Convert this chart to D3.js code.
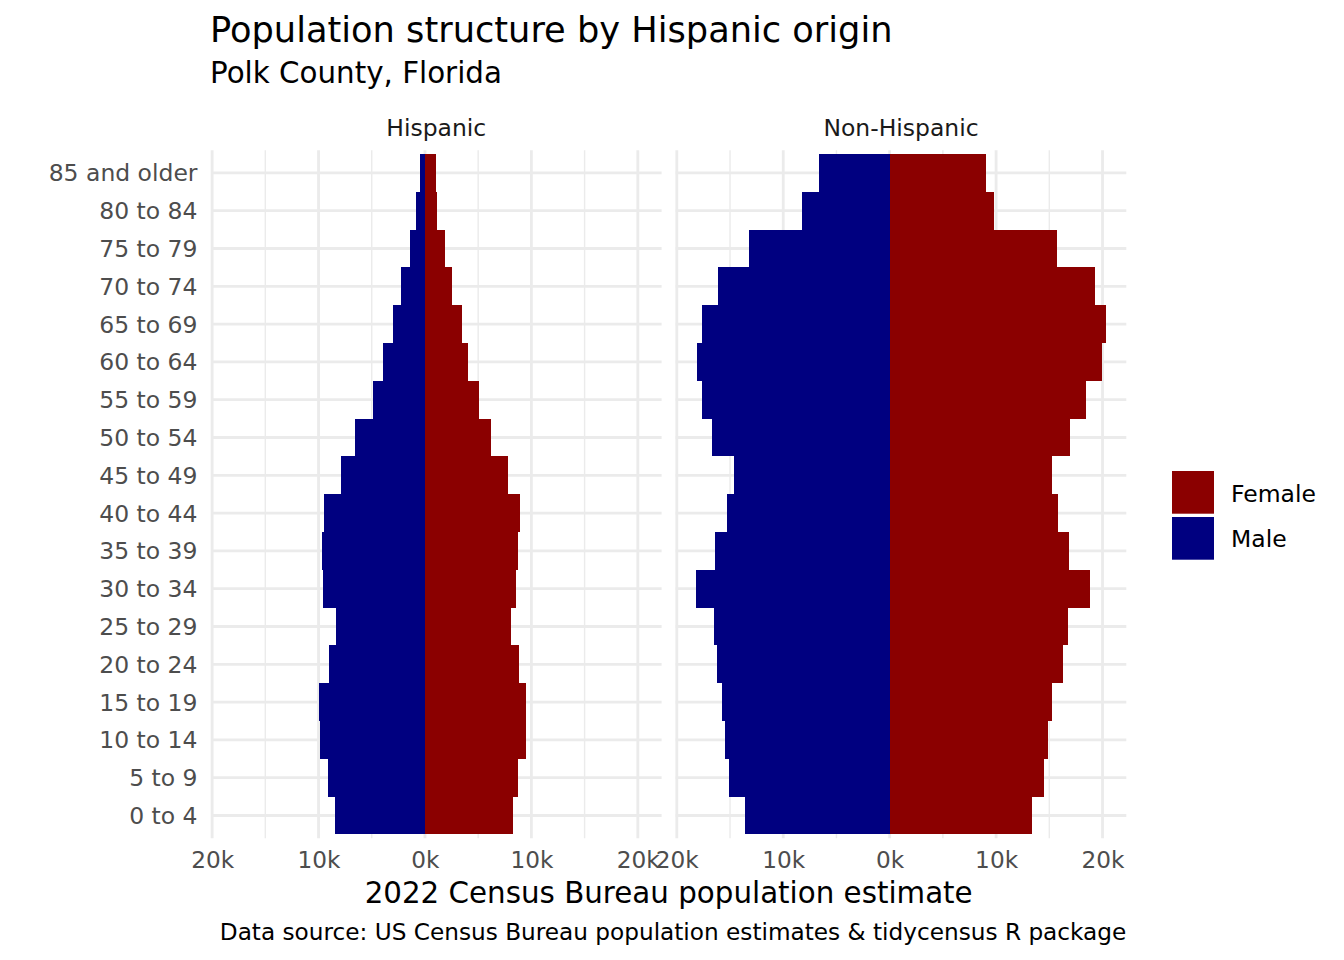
<!DOCTYPE html>
<html>
<head>
<meta charset="utf-8">
<script src="https://cdn.jsdelivr.net/npm/d3@7"></script>
<style>
  html, body { margin: 0; padding: 0; background: #fff; }
  svg { display: block; font-family: "DejaVu Sans", sans-serif; }
</style>
</head>
<body>
<svg id="chart" width="1344" height="960"></svg>
<script>
// ---- Data ----
const ageGroups = ["0 to 4", "5 to 9", "10 to 14", "15 to 19", "20 to 24", "25 to 29",
  "30 to 34", "35 to 39", "40 to 44", "45 to 49", "50 to 54", "55 to 59",
  "60 to 64", "65 to 69", "70 to 74", "75 to 79", "80 to 84", "85 and older"];
const panels = ["Hispanic", "Non-Hispanic"];
const sexes = ["Female", "Male"];
const hispanicMale   = [8460, 9110, 9870, 9960, 9020, 8360, 9580, 9680, 9490, 7890, 6580, 4890, 3950, 3000, 2250, 1410, 850, 470];
const hispanicFemale = [8270, 8740, 9490, 9490, 8830, 8080, 8550, 8740, 8930, 7770, 6200, 5070, 4040, 3480, 2540, 1880, 1130, 1030];
const nonHispMale    = [13580, 15090, 15460, 15740, 16210, 16490, 18180, 16400, 15270, 14620, 16680, 17620, 18090, 17620, 16120, 13210, 8230, 6640];
const nonHispFemale  = [13360, 14490, 14870, 15240, 16280, 16740, 18810, 16840, 15810, 15240, 16930, 18440, 19940, 20310, 19280, 15710, 9800, 9050];
const xTicks = [-20000, -10000, 0, 10000, 20000];
const xMinor = [-15000, -5000, 5000, 15000];
const colors = { Female: "#8B0000", Male: "#000080" };

// ---- Build long table ----
const rows = [];
ageGroups.forEach((a, i) => {
  rows.push({ panel: "Hispanic", age: a, sex: "Male", value: -hispanicMale[i] });
  rows.push({ panel: "Hispanic", age: a, sex: "Female", value: hispanicFemale[i] });
  rows.push({ panel: "Non-Hispanic", age: a, sex: "Male", value: -nonHispMale[i] });
  rows.push({ panel: "Non-Hispanic", age: a, sex: "Female", value: nonHispFemale[i] });
});

// ---- Layout ----
const svg = d3.select("#chart");
const panelW = 450.6, panelGap = 14.1, panelLeft = 211;
const panelTop = 150.2, panelBottom = 838.2;
const bandTop = 154, bandBottom = 834.4;

const ext = d3.extent(rows, d => d.value);
const pad = (ext[1] - ext[0]) * 0.05;
const xDomain = [ext[0] - pad, ext[1] + pad];

const y = d3.scaleBand().domain(ageGroups).range([bandBottom, bandTop]).padding(0);

const gridCol = "#EBEBEB";

panels.forEach((p, pi) => {
  const x0 = panelLeft + pi * (panelW + panelGap);
  const x = d3.scaleLinear().domain(xDomain).range([x0, x0 + panelW]);
  const g = svg.append("g");

  // minor vertical grid
  g.selectAll(".minor").data(xMinor).join("line")
    .attr("x1", d => x(d)).attr("x2", d => x(d))
    .attr("y1", panelTop).attr("y2", panelBottom)
    .attr("stroke", gridCol).attr("stroke-width", 1.42);
  // major vertical grid
  g.selectAll(".major").data(xTicks).join("line")
    .attr("x1", d => x(d)).attr("x2", d => x(d))
    .attr("y1", panelTop).attr("y2", panelBottom)
    .attr("stroke", gridCol).attr("stroke-width", 2.84);
  // horizontal grid
  g.selectAll(".hgrid").data(ageGroups).join("line")
    .attr("x1", x0).attr("x2", x0 + panelW)
    .attr("y1", d => y(d) + y.bandwidth() / 2).attr("y2", d => y(d) + y.bandwidth() / 2)
    .attr("stroke", gridCol).attr("stroke-width", 2.84);

  // bars
  g.selectAll(".bar").data(rows.filter(r => r.panel === p)).join("rect")
    .attr("x", d => x(Math.min(0, d.value)))
    .attr("width", d => Math.abs(x(d.value) - x(0)))
    .attr("y", d => y(d.age))
    .attr("height", y.bandwidth())
    .attr("fill", d => colors[d.sex])
    .attr("shape-rendering", "crispEdges");

  // strip label
  g.append("text").attr("x", x0 + panelW / 2).attr("y", 136)
    .attr("text-anchor", "middle").attr("font-size", 23.47).attr("fill", "#1A1A1A")
    .text(p);

  // x axis labels
  const ax = g.append("g").attr("transform", `translate(0,${panelBottom})`)
    .call(d3.axisBottom(x).tickValues(xTicks).tickSize(0).tickPadding(0)
      .tickFormat(d => Math.abs(d) / 1000 + "k"));
  ax.select(".domain").remove();
  ax.selectAll("text").attr("font-size", 23.2).attr("fill", "#4D4D4D")
    .attr("font-family", "DejaVu Sans").attr("dy", null).attr("y", 30.1);
});

// y axis labels
const yAx = svg.append("g").attr("transform", `translate(197.5,0)`)
  .call(d3.axisLeft(y).tickSize(0).tickPadding(0));
yAx.select(".domain").remove();
yAx.selectAll("text").attr("font-size", 23.47).attr("fill", "#4D4D4D")
  .attr("font-family", "DejaVu Sans").attr("x", 0).attr("dy", "0.36em");

// titles
svg.append("text").attr("x", 210).attr("y", 41.7).attr("font-size", 35.2).attr("fill", "#000")
  .text("Population structure by Hispanic origin");
svg.append("text").attr("x", 210).attr("y", 83.3).attr("font-size", 29.33).attr("fill", "#000")
  .text("Polk County, Florida");
svg.append("text").attr("x", panelLeft + (2 * panelW + panelGap) / 2).attr("y", 903.3)
  .attr("text-anchor", "middle").attr("font-size", 29.33).attr("fill", "#000")
  .text("2022 Census Bureau population estimate");
svg.append("text").attr("x", panelLeft + 2 * panelW + panelGap).attr("y", 939.8)
  .attr("text-anchor", "end").attr("font-size", 23.2).attr("fill", "#000")
  .text("Data source: US Census Bureau population estimates & tidycensus R package");

// legend
const legend = svg.append("g");
const keyY = { Female: 471, Male: 517 };
const txtY = { Female: 501.7, Male: 546.5 };
sexes.forEach(s => {
  legend.append("rect").attr("x", 1172).attr("y", keyY[s]).attr("width", 42).attr("height", 42.7)
    .attr("fill", colors[s]);
  legend.append("text").attr("x", 1231).attr("y", txtY[s]).attr("font-size", 23.47)
    .attr("fill", "#000").text(s);
});
</script>
</body>
</html>
